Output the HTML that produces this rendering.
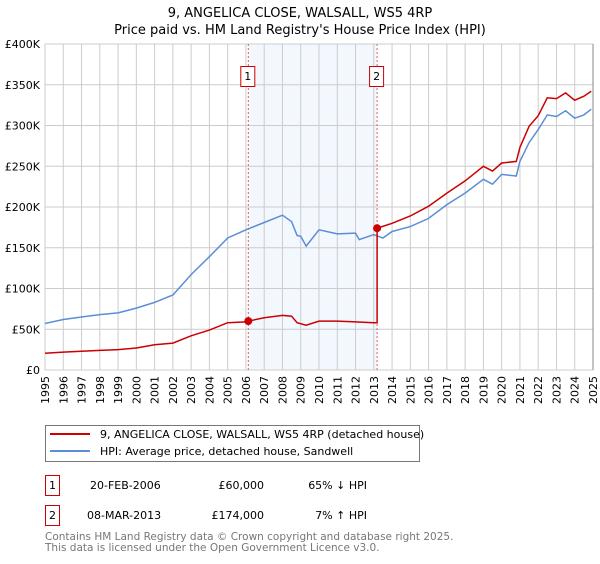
<!DOCTYPE html>
<html><head><meta charset="utf-8"><style>
body{margin:0;background:#fff;width:600px;height:560px;overflow:hidden;font-family:"DejaVu Sans","Liberation Sans",sans-serif}
svg text{font-family:"DejaVu Sans","Liberation Sans",sans-serif}
</style></head><body>
<svg id="chart" width="600" height="560" xmlns="http://www.w3.org/2000/svg">
<text x="300" y="17" text-anchor="middle" font-size="13">9, ANGELICA CLOSE, WALSALL, WS5 4RP</text>
<text x="300" y="34" text-anchor="middle" font-size="13">Price paid vs. HM Land Registry's House Price Index (HPI)</text>
<g id="grid"></g><g id="series"></g><g id="axes"></g>
<rect x="45.5" y="425.5" width="374" height="36" fill="#fff" stroke="#777"/>
<line x1="50" y1="434" x2="90" y2="434" stroke="#cc0000" stroke-width="2"/>
<text x="100" y="438" font-size="11">9, ANGELICA CLOSE, WALSALL, WS5 4RP (detached house)</text>
<line x1="50" y1="451" x2="90" y2="451" stroke="#5b8ed6" stroke-width="2"/>
<text x="100" y="455" font-size="11">HPI: Average price, detached house, Sandwell</text>
<g font-size="11">
<rect x="45.5" y="475.5" width="14" height="20" fill="#fff" stroke="#cc0000"/>
<text x="52.5" y="489" text-anchor="middle">1</text>
<text x="90" y="489">20-FEB-2006</text>
<text x="264" y="489" text-anchor="end">£60,000</text>
<text x="367" y="489" text-anchor="end">65% ↓ HPI</text>
<rect x="45.5" y="505.5" width="14" height="20" fill="#fff" stroke="#cc0000"/>
<text x="52.5" y="519" text-anchor="middle">2</text>
<text x="87" y="519">08-MAR-2013</text>
<text x="264" y="519" text-anchor="end">£174,000</text>
<text x="367" y="519" text-anchor="end">7% ↑ HPI</text>
</g>
<text x="45" y="540" font-size="10.5" fill="#777">Contains HM Land Registry data © Crown copyright and database right 2025.</text>
<text x="45" y="551" font-size="10.5" fill="#777">This data is licensed under the Open Government Licence v3.0.</text>
</svg>
<script>
const years=[1995,1996,1997,1998,1999,2000,2001,2002,2003,2004,2005,2006,2007,2008,2009,2010,2011,2012,2013,2014,2015,2016,2017,2018,2019,2020,2021,2022,2023,2024,2025];
const yTicks=[0,50,100,150,200,250,300,350,400];
const yTickLabels=["£0","£50K","£100K","£150K","£200K","£250K","£300K","£350K","£400K"];
const hpiDates=[1995,1996,1997,1998,1999,2000,2001,2002,2003,2004,2005,2006,2007,2008,2008.5,2008.8,2009,2009.3,2010,2011,2012,2012.2,2013,2013.5,2014,2015,2016,2017,2018,2019,2019.5,2020,2020.8,2021,2021.5,2022,2022.5,2023,2023.5,2024,2024.5,2024.9];
const hpiValues=[57,62,65,68,70,76,83,92,117,139,162,172,181,190,182,165,164,152,172,167,168,160,166,162,170,176,186,203,217,234,228,240,238,256,279,295,313,311,318,309,313,320];
const priceDates=[1995,1996,1997,1998,1999,2000,2001,2002,2003,2004,2005,2006,2006.13,2007,2008,2008.5,2008.8,2009.3,2010,2011,2012,2013,2013.18,2013.18,2014,2015,2016,2017,2018,2019,2019.5,2020,2020.8,2021,2021.5,2022,2022.5,2023,2023.5,2024,2024.5,2024.9];
const priceValues=[20.5,22,23,24,25,27,31,33,42,49,58,59,60,64,67,66,58,55,60,60,59,58,58,174,180,189,201,217,232,250,244,254,256,273,299,312,334,333,340,331,336,342];
const saleDates=[2006.13,2013.18];
const saleValues=[60,174];
const saleLabels=["1","2"];
const NS="http://www.w3.org/2000/svg";
const X0=45,X1=593,Y0=370,Y1=44;
const x=t=>X0+(t-1995)/30*(X1-X0);
const y=v=>Y0-v/400*(Y0-Y1);
function mk(tag,attrs,parent){const e=document.createElementNS(NS,tag);for(const k in attrs)e.setAttribute(k,attrs[k]);parent.appendChild(e);return e;}
const grid=document.getElementById('grid'),ser=document.getElementById('series'),ax=document.getElementById('axes');
const shade=mk('rect',{x:x(saleDates[0]),y:Y1,width:x(saleDates[1])-x(saleDates[0]),height:Y0-Y1,fill:'#eef3fd',opacity:0.7},grid);


years.forEach(t=>{const l=mk('line',{x1:x(t),x2:x(t),y1:Y1,y2:Y0,stroke:'#cccccc'},grid);


const tx=mk('text',{x:0,y:0,'font-size':11,'text-anchor':'end',transform:`translate(${x(t)+4},${Y0+6}) rotate(-90)`},ax);tx.textContent=t;

});
yTicks.forEach((v,i)=>{const l=mk('line',{x1:X0,x2:X1,y1:y(v),y2:y(v),stroke:'#cccccc'},grid);


const tx=mk('text',{x:X0-5,y:y(v)+4,'font-size':11,'text-anchor':'end'},ax);tx.textContent=yTickLabels[i];

});
saleDates.forEach((t,i)=>{const l=mk('line',{x1:x(t),x2:x(t),y1:Y1,y2:Y0,stroke:'#e06060','stroke-dasharray':'2,2'},grid);


const r=mk('rect',{x:x(t)-7.5,y:66.5,width:14,height:20,fill:'#fff',stroke:'#cc0000'},ax);


const tx=mk('text',{x:x(t)-0.5,y:80,'font-size':11,'text-anchor':'middle'},ax);tx.textContent=saleLabels[i];});
const pts=(d,v)=>d.map((t,i)=>x(t).toFixed(1)+','+y(v[i]).toFixed(1)).join(' ');
const hp=mk('polyline',{points:pts(hpiDates,hpiValues),fill:'none',stroke:'#5b8ed6','stroke-width':1.5},ser);


const pp=mk('polyline',{points:pts(priceDates,priceValues),fill:'none',stroke:'#cc0000','stroke-width':1.5},ser);


saleDates.forEach((t,i)=>{const c=mk('circle',{cx:x(t),cy:y(saleValues[i]),r:4,fill:'#cc0000'},ser);

});
const b=mk('line',{x1:X1,x2:X1,y1:Y1,y2:Y0,stroke:'#888'},ax);


</script>
</body></html>
